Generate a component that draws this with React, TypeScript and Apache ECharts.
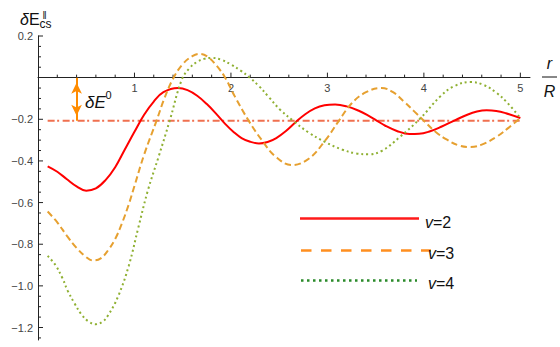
import React, { useEffect, useRef } from "react";
import * as echarts from "echarts";

const FONT = "'Liberation Sans', Arial, sans-serif";

// Tick values
const xTicks = [1, 2, 3, 4, 5];
const yTicks = [-1.2, -1.0, -0.8, -0.6, -0.4, -0.2, 0.2];
const xMinorTicks: number[] = [];
for (let i = 1; i <= 25; i++) if (i % 5 !== 0) xMinorTicks.push(+(i * 0.2).toFixed(2));
const yMinorTicks: number[] = [];
for (let i = -25; i <= 4; i++) if (i % 4 !== 0) yMinorTicks.push(+(i * 0.05).toFixed(2));

// Reference level δE^0 and its arrow
const deltaE0 = -0.207;
const refLine: [number, number][] = [[0.1, deltaE0], [5.0, deltaE0]];
const arrowR = 0.4;

// v = 2
const curveV2: [number, number][] = [
  [0.1, -0.426], [0.2, -0.452], [0.3, -0.488], [0.4, -0.522], [0.5, -0.543], [0.6, -0.532],
  [0.7, -0.492], [0.8, -0.43], [0.9, -0.345], [1.0, -0.26], [1.1, -0.178], [1.2, -0.115],
  [1.3, -0.07], [1.45, -0.05], [1.55, -0.06], [1.65, -0.087], [1.75, -0.127], [1.85, -0.175],
  [1.94, -0.222], [2.03, -0.262], [2.11, -0.29], [2.2, -0.308], [2.29, -0.316], [2.38, -0.309],
  [2.47, -0.29], [2.57, -0.256], [2.67, -0.214], [2.77, -0.176], [2.87, -0.148], [2.97, -0.133],
  [3.08, -0.129], [3.2, -0.138], [3.32, -0.158], [3.42, -0.181], [3.51, -0.206], [3.6, -0.231],
  [3.72, -0.256], [3.85, -0.271], [3.95, -0.27], [4.05, -0.26], [4.18, -0.236], [4.32, -0.205],
  [4.45, -0.178], [4.55, -0.163], [4.65, -0.157], [4.75, -0.16], [4.85, -0.171], [5.0, -0.194],
];

// v = 3
const curveV3: [number, number][] = [
  [0.1, -0.643], [0.2, -0.695], [0.3, -0.76], [0.4, -0.818], [0.5, -0.862], [0.57, -0.878],
  [0.65, -0.868], [0.73, -0.827], [0.8, -0.775], [0.87, -0.7], [0.94, -0.61], [1.0, -0.52],
  [1.1, -0.37], [1.23, -0.205], [1.31, -0.1], [1.4, -0.005], [1.5, 0.065], [1.6, 0.103],
  [1.675, 0.114], [1.76, 0.1], [1.85, 0.058], [1.94, 0.0], [2.04, -0.09], [2.18, -0.204],
  [2.32, -0.3], [2.46, -0.378], [2.63, -0.42], [2.81, -0.388], [2.98, -0.3], [3.115, -0.21],
  [3.25, -0.124], [3.4, -0.07], [3.56, -0.05], [3.68, -0.07], [3.8, -0.118], [3.9, -0.162],
  [4.0, -0.207], [4.12, -0.26], [4.24, -0.298], [4.36, -0.325], [4.48, -0.333], [4.6, -0.322],
  [4.76, -0.282], [4.88, -0.24], [5.0, -0.194],
];

// v = 4
const curveV4: [number, number][] = [
  [0.1, -0.856], [0.18, -0.9], [0.25, -0.96], [0.31, -1.025], [0.38, -1.085], [0.45, -1.137],
  [0.52, -1.17], [0.6, -1.184], [0.67, -1.172], [0.73, -1.139], [0.83, -1.051], [0.94, -0.905],
  [1.04, -0.72], [1.14, -0.54], [1.25, -0.38], [1.365, -0.207], [1.49, -0.01], [1.57, 0.045],
  [1.65, 0.076], [1.72, 0.09], [1.8, 0.095], [1.9, 0.086], [2.0, 0.063], [2.1, 0.034],
  [2.2, -0.002], [2.29, -0.04], [2.39, -0.092], [2.51, -0.154], [2.65, -0.209], [2.8, -0.262],
  [2.98, -0.31], [3.15, -0.345], [3.3, -0.364], [3.43, -0.368], [3.57, -0.35], [3.75, -0.285],
  [3.96, -0.197], [4.17, -0.09], [4.31, -0.042], [4.48, -0.021], [4.62, -0.035], [4.75, -0.072],
  [4.86, -0.118], [5.0, -0.194],
];

const legendLabels = ["2", "3", "4"];

const AXIS_COLOR = "#222";
const LABEL_COLOR = "#444";

const fmtY = (v: number) => (v < 0 ? "\u2212" : "") + Math.abs(v).toFixed(1);

export default function App() {
  const ref = useRef<HTMLDivElement>(null);
  useEffect(() => {
    const chart = echarts.init(ref.current!, null, { renderer: "svg" });
    const option: any = {
      animation: false,
      grid: { left: 38, right: 30, top: 36, bottom: 7, outerBoundsMode: "none" },
      xAxis: {
        type: "value",
        min: 0,
        max: 5.1,
        splitLine: { show: false },
        axisLine: { onZero: true, lineStyle: { color: AXIS_COLOR, width: 1 } },
        axisTick: { show: false },
        axisLabel: { show: false },
      },
      yAxis: {
        type: "value",
        min: -1.26,
        max: 0.2,
        splitLine: { show: false },
        axisLine: { onZero: true, lineStyle: { color: AXIS_COLOR, width: 1 } },
        axisTick: { show: false },
        axisLabel: { show: false },
      },
      series: [
        // x-axis ticks + labels (at y = 0)
        {
          type: "custom",
          coordinateSystem: "cartesian2d",
          silent: true,
          clip: false,
          data: xTicks.map((v) => [v, 0, 1]).concat(xMinorTicks.map((v) => [v, 0, 0])),
          renderItem: (_p: any, api: any) => {
            const v = api.value(0);
            const major = api.value(2) === 1;
            const pt = api.coord([v, 0]);
            const children: any[] = [
              {
                type: "line",
                shape: { x1: pt[0], y1: pt[1], x2: pt[0], y2: pt[1] - (major ? 5 : 3) },
                style: { stroke: AXIS_COLOR, lineWidth: 1 },
              },
            ];
            if (major)
              children.push({
                type: "text",
                style: {
                  text: String(v),
                  x: pt[0],
                  y: pt[1] + 5,
                  align: "center",
                  verticalAlign: "top",
                  fontSize: 11,
                  fontFamily: FONT,
                  fill: LABEL_COLOR,
                },
              });
            return { type: "group", children };
          },
        },
        // y-axis ticks + labels (at x = 0)
        {
          type: "custom",
          coordinateSystem: "cartesian2d",
          silent: true,
          clip: false,
          data: yTicks.map((v) => [0, v, 1]).concat(yMinorTicks.map((v) => [0, v, 0])),
          renderItem: (_p: any, api: any) => {
            const v = api.value(1);
            const major = api.value(2) === 1;
            const pt = api.coord([0, v]);
            const children: any[] = [
              {
                type: "line",
                shape: { x1: pt[0], y1: pt[1], x2: pt[0] + (major ? 5 : 3), y2: pt[1] },
                style: { stroke: AXIS_COLOR, lineWidth: 1 },
              },
            ];
            if (major)
              children.push({
                type: "text",
                style: {
                  text: fmtY(v),
                  x: pt[0] - 5,
                  y: pt[1],
                  align: "right",
                  verticalAlign: "middle",
                  fontSize: 11,
                  fontFamily: FONT,
                  fill: LABEL_COLOR,
                },
              });
            return { type: "group", children };
          },
        },
        {
          type: "line",
          data: refLine,
          showSymbol: false,
          silent: true,
          lineStyle: { color: "#F0704F", width: 2, type: [7, 2.5, 2, 3.5] },
          markLine: {
            silent: true,
            symbol: ["arrow", "arrow"],
            symbolSize: [8, 11],
            symbolOffset: [[0, 5], [0, 5]],
            label: { show: false },
            emphasis: { disabled: true },
            lineStyle: { color: "#FF8C00", width: 2, type: "solid" },
            data: [[{ coord: [arrowR, 0] }, { coord: [arrowR, deltaE0] }]],
          },
        },
        {
          type: "line",
          data: curveV2,
          smooth: 0.4,
          showSymbol: false,
          silent: true,
          lineStyle: { color: "#FF0000", width: 2 },
        },
        {
          type: "line",
          data: curveV3,
          smooth: 0.4,
          showSymbol: false,
          silent: true,
          lineStyle: { color: "#E6A030", width: 2, type: [6.5, 3.5] },
        },
        {
          type: "line",
          data: curveV4,
          smooth: 0.4,
          showSymbol: false,
          silent: true,
          lineStyle: { color: "#8FB032", width: 2, type: [2, 3] },
        },
      ],
      graphic: [
        // y-axis name δE‖cs
        { type: "text", style: { text: "δ", x: 20, y: 19, fontSize: 16, fontStyle: "italic", fontFamily: FONT, fill: "#111", verticalAlign: "middle" } },
        { type: "text", style: { text: "E", x: 29, y: 19, fontSize: 16, fontFamily: FONT, fill: "#111", verticalAlign: "middle" } },
        { type: "text", style: { text: "\u2016", x: 42.5, y: 15.5, fontSize: 10, fontFamily: FONT, fill: "#111", verticalAlign: "middle" } },
        { type: "text", style: { text: "cs", x: 39.5, y: 24, fontSize: 12, fontFamily: FONT, fill: "#111", verticalAlign: "middle" } },
        // x-axis name r / R
        { type: "text", style: { text: "r", x: 549.5, y: 63, fontSize: 16, fontStyle: "italic", fontFamily: FONT, fill: "#111", align: "center", verticalAlign: "middle" } },
        { type: "line", shape: { x1: 542, y1: 77, x2: 557, y2: 77 }, style: { stroke: "#111", lineWidth: 1 } },
        { type: "text", style: { text: "R", x: 549.5, y: 91, fontSize: 16, fontStyle: "italic", fontFamily: FONT, fill: "#111", align: "center", verticalAlign: "middle" } },
        // δE^0 label
        { type: "text", style: { text: "δE", x: 85, y: 102.5, fontSize: 17, fontStyle: "italic", fontFamily: FONT, fill: "#111", verticalAlign: "middle" } },
        { type: "text", style: { text: "0", x: 105.5, y: 94.5, fontSize: 11, fontFamily: FONT, fill: "#111", verticalAlign: "middle" } },
        // legend
        { type: "line", shape: { x1: 300, y1: 218.5, x2: 419, y2: 218.5 }, style: { stroke: "#FF1A1A", lineWidth: 2.5 } },
        { type: "line", shape: { x1: 301, y1: 250.5, x2: 431, y2: 250.5 }, style: { stroke: "#FF8F1F", lineWidth: 2.5, lineDash: [10.5, 9.5] } },
        { type: "line", shape: { x1: 301, y1: 280.5, x2: 417, y2: 280.5 }, style: { stroke: "#2A8A2A", lineWidth: 2.5, lineDash: [2.5, 3.5] } },
        ...legendLabels.map((lab, i) => ({
          type: "text",
          style: {
            text: "{i|v}=" + lab,
            x: i === 0 ? 425 : 428,
            y: [222, 253, 283][i],
            fontSize: 16,
            fontFamily: FONT,
            fill: "#111",
            verticalAlign: "middle",
            rich: { i: { fontStyle: "italic", fontSize: 16, fontFamily: FONT, fill: "#111" } },
          },
        })),
      ],
    };
    chart.setOption(option);
    return () => chart.dispose();
  }, []);
  return (
    <div
      ref={ref}
      style={{ position: "fixed", left: 0, top: 0, width: 560, height: 347, background: "#fff" }}
    />
  );
}
